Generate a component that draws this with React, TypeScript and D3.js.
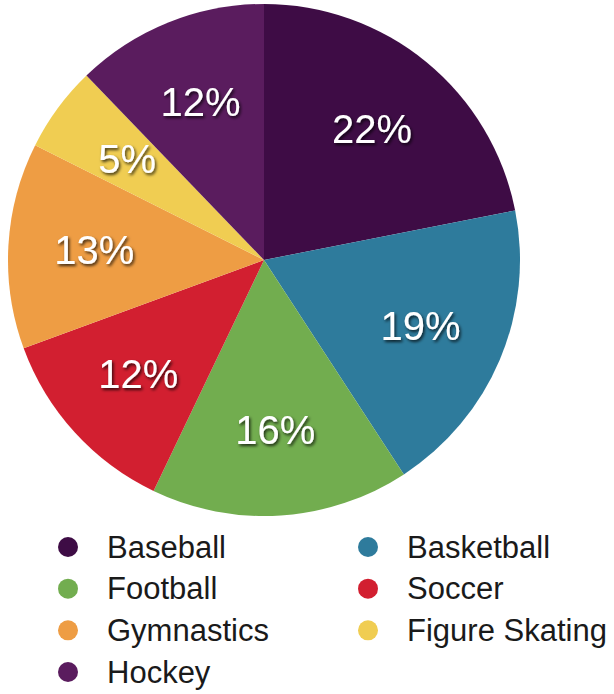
import React from "react";
import * as d3 from "d3";

const categories = ["Baseball", "Basketball", "Football", "Soccer", "Gymnastics", "Figure Skating", "Hockey"];
const values = [21.9, 18.9, 16.3, 12.3, 13.0, 5.4, 12.2];
const labels = ["22%", "19%", "16%", "12%", "13%", "5%", "12%"];
const colors = ["#3e0c45", "#2e7b9c", "#72ad4f", "#d21f30", "#ee9d44", "#f0cd52", "#5a1c5e"];
// legend order (two columns)
const legendOrder = ["Baseball", "Basketball", "Football", "Soccer", "Gymnastics", "Figure Skating", "Hockey"];

const W = 614;
const H = 694;
const cx = 264;
const cy = 260;
const R = 256;
const labelR = 170;

export default function App() {
  const pie = d3.pie<number>().sort(null).value((d) => d).startAngle(0).endAngle(2 * Math.PI);
  const arcs = pie(values);
  const arcGen = d3.arc<d3.PieArcDatum<number>>().innerRadius(0).outerRadius(R);
  const labelArc = d3.arc<d3.PieArcDatum<number>>().innerRadius(labelR).outerRadius(labelR);
  const color = d3.scaleOrdinal<string, string>().domain(categories).range(colors);

  const colX = d3.scalePoint<number>().domain([0, 1]).range([68, 368]);
  const rowY = d3.scaleLinear().domain([0, 3]).range([547, 672]);

  return (
    <div style={{ position: "absolute", left: 0, top: 0 }}>
      <svg width={W} height={H} style={{ display: "block", background: "#fff" }}>
        <defs>
          <filter id="sh" x="-20%" y="-20%" width="140%" height="140%">
            <feDropShadow dx="1.5" dy="2" stdDeviation="1.5" floodColor="#000" floodOpacity="0.75" />
          </filter>
        </defs>
        <g transform={`translate(${cx},${cy})`}>
          {arcs.map((a, i) => (
            <path key={categories[i]} d={arcGen(a) || ""} fill={color(categories[i])} />
          ))}
          {arcs.map((a, i) => {
            const [x, y] = labelArc.centroid(a);
            return (
              <text
                key={"l" + i}
                x={x}
                y={y}
                textAnchor="middle"
                dominantBaseline="central"
                fill="#fff"
                fontFamily="'Liberation Sans', Arial, Helvetica, sans-serif"
                fontSize={40}
                filter="url(#sh)"
              >
                {labels[i]}
              </text>
            );
          })}
        </g>
        <g>
          {legendOrder.map((name, i) => {
            const col = i % 2;
            const row = Math.floor(i / 2);
            const x = colX(col) as number;
            const y = rowY(row);
            return (
              <g key={name}>
                <circle cx={x} cy={y} r={10} fill={color(name)} />
                <text
                  x={x + 39}
                  y={y}
                  dominantBaseline="central"
                  fill="#1a1a1a"
                  fontFamily="'Liberation Sans', Arial, Helvetica, sans-serif"
                  fontSize={31}
                >
                  {name}
                </text>
              </g>
            );
          })}
        </g>
      </svg>
    </div>
  );
}
